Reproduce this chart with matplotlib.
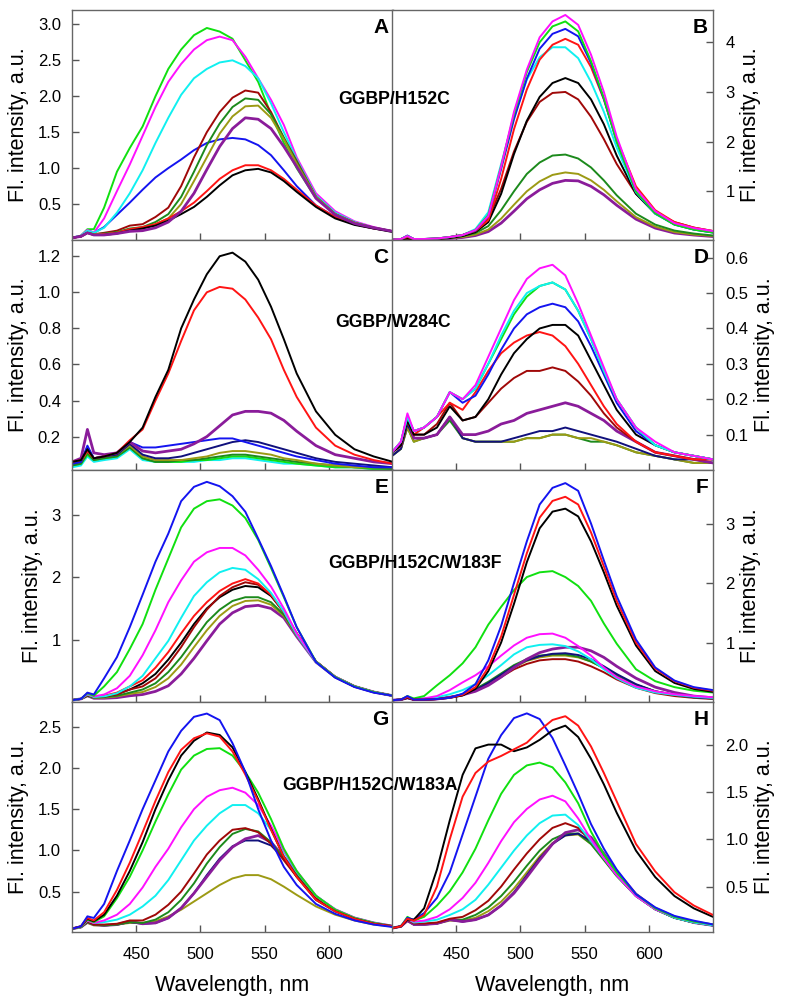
import matplotlib
matplotlib.use("Agg")
import matplotlib.pyplot as plt

plt.rcParams['font.family'] = ['Liberation Sans', 'DejaVu Sans']

# wavelength grid the curves were read at (nm)
wl = [400, 407, 412, 417, 425, 435, 445, 455, 465, 475, 485, 495, 505,
      515, 525, 535, 545, 555, 565, 575, 590, 605, 620, 635, 650]

# panel A - GGBP/H152C, left
panel_a = {
    'blue':      [0.03, 0.06, 0.14, 0.10, 0.18, 0.35, 0.52, 0.70, 0.87, 1.00, 1.12, 1.25, 1.35, 1.40, 1.42, 1.40, 1.32, 1.18, 0.97, 0.75, 0.48, 0.32, 0.22, 0.16, 0.12],
    'green':     [0.03, 0.06, 0.15, 0.15, 0.45, 0.95, 1.28, 1.58, 2.00, 2.38, 2.65, 2.85, 2.95, 2.90, 2.80, 2.50, 2.20, 1.75, 1.35, 1.00, 0.58, 0.36, 0.24, 0.17, 0.12],
    'magenta':   [0.03, 0.06, 0.14, 0.10, 0.30, 0.68, 1.05, 1.45, 1.85, 2.20, 2.45, 2.65, 2.78, 2.83, 2.78, 2.55, 2.25, 1.95, 1.60, 1.15, 0.65, 0.40, 0.26, 0.18, 0.12],
    'cyan':      [0.03, 0.06, 0.13, 0.10, 0.17, 0.38, 0.65, 0.97, 1.35, 1.70, 2.02, 2.25, 2.38, 2.47, 2.50, 2.42, 2.25, 1.90, 1.50, 1.12, 0.62, 0.38, 0.25, 0.17, 0.12],
    'darkred':   [0.03, 0.05, 0.10, 0.08, 0.10, 0.13, 0.20, 0.22, 0.32, 0.45, 0.75, 1.15, 1.50, 1.78, 1.98, 2.08, 2.05, 1.78, 1.42, 1.10, 0.60, 0.36, 0.24, 0.17, 0.12],
    'darkgreen': [0.03, 0.05, 0.10, 0.08, 0.09, 0.11, 0.16, 0.18, 0.25, 0.36, 0.60, 0.95, 1.32, 1.62, 1.85, 1.97, 1.95, 1.75, 1.42, 1.08, 0.60, 0.36, 0.24, 0.17, 0.12],
    'olive':     [0.03, 0.05, 0.10, 0.08, 0.08, 0.10, 0.14, 0.16, 0.22, 0.30, 0.50, 0.82, 1.15, 1.48, 1.72, 1.86, 1.87, 1.70, 1.40, 1.06, 0.60, 0.36, 0.24, 0.17, 0.12],
    'red':       [0.03, 0.05, 0.10, 0.07, 0.08, 0.10, 0.15, 0.18, 0.22, 0.30, 0.40, 0.52, 0.68, 0.85, 0.97, 1.04, 1.04, 0.97, 0.85, 0.70, 0.48, 0.32, 0.22, 0.16, 0.12],
    'black':     [0.03, 0.05, 0.10, 0.07, 0.07, 0.09, 0.13, 0.16, 0.20, 0.27, 0.36, 0.46, 0.60, 0.76, 0.90, 0.97, 0.99, 0.94, 0.82, 0.67, 0.46, 0.30, 0.21, 0.16, 0.11],
    'purple':    [0.03, 0.05, 0.10, 0.07, 0.07, 0.09, 0.12, 0.13, 0.17, 0.25, 0.40, 0.65, 0.98, 1.30, 1.55, 1.70, 1.68, 1.55, 1.30, 1.02, 0.58, 0.35, 0.23, 0.17, 0.12],
}

# panel B - GGBP/H152C, right
panel_b = {
    'purple':    [0.02, 0.03, 0.05, 0.03, 0.03, 0.04, 0.05, 0.07, 0.11, 0.19, 0.36, 0.60, 0.85, 1.03, 1.16, 1.22, 1.21, 1.10, 0.93, 0.72, 0.44, 0.26, 0.16, 0.12, 0.09],
    'olive':     [0.02, 0.03, 0.05, 0.03, 0.03, 0.04, 0.06, 0.08, 0.13, 0.23, 0.45, 0.73, 1.00, 1.20, 1.33, 1.38, 1.35, 1.22, 1.03, 0.80, 0.48, 0.29, 0.18, 0.13, 0.10],
    'darkgreen': [0.02, 0.03, 0.05, 0.03, 0.03, 0.04, 0.07, 0.10, 0.16, 0.30, 0.62, 1.00, 1.35, 1.58, 1.72, 1.74, 1.66, 1.48, 1.22, 0.92, 0.55, 0.33, 0.21, 0.15, 0.11],
    'darkred':   [0.02, 0.03, 0.05, 0.03, 0.03, 0.04, 0.07, 0.12, 0.22, 0.45, 1.05, 1.80, 2.40, 2.80, 2.98, 3.00, 2.85, 2.50, 2.05, 1.55, 0.95, 0.58, 0.38, 0.27, 0.20],
    'black':     [0.02, 0.03, 0.05, 0.03, 0.03, 0.04, 0.06, 0.10, 0.18, 0.38, 0.95, 1.75, 2.42, 2.90, 3.18, 3.28, 3.18, 2.85, 2.35, 1.72, 0.95, 0.55, 0.34, 0.24, 0.18],
    'cyan':      [0.03, 0.04, 0.10, 0.04, 0.04, 0.05, 0.08, 0.12, 0.24, 0.58, 1.55, 2.50, 3.25, 3.70, 3.90, 3.90, 3.68, 3.20, 2.60, 1.88, 0.98, 0.55, 0.33, 0.23, 0.17],
    'red':       [0.03, 0.04, 0.08, 0.04, 0.04, 0.05, 0.08, 0.12, 0.20, 0.42, 1.25, 2.25, 3.05, 3.65, 3.95, 4.07, 3.95, 3.50, 2.85, 2.05, 1.10, 0.62, 0.38, 0.27, 0.20],
    'blue':      [0.03, 0.04, 0.11, 0.04, 0.04, 0.05, 0.08, 0.12, 0.21, 0.50, 1.45, 2.45, 3.27, 3.87, 4.17, 4.27, 4.12, 3.58, 2.86, 2.00, 1.00, 0.56, 0.33, 0.23, 0.17],
    'green':     [0.03, 0.04, 0.10, 0.04, 0.04, 0.05, 0.08, 0.12, 0.22, 0.52, 1.50, 2.55, 3.40, 4.00, 4.32, 4.42, 4.22, 3.62, 2.88, 2.00, 1.00, 0.56, 0.33, 0.23, 0.17],
    'magenta':   [0.03, 0.04, 0.10, 0.04, 0.04, 0.05, 0.08, 0.12, 0.22, 0.50, 1.50, 2.60, 3.45, 4.10, 4.42, 4.55, 4.35, 3.75, 3.00, 2.10, 1.05, 0.60, 0.36, 0.26, 0.20],
}

# panel C - GGBP/W284C, left
panel_c = {
    'cyan':      [0.03, 0.04, 0.09, 0.06, 0.07, 0.08, 0.13, 0.07, 0.06, 0.06, 0.06, 0.06, 0.07, 0.07, 0.08, 0.08, 0.07, 0.06, 0.05, 0.05, 0.04, 0.03, 0.03, 0.02, 0.02],
    'green':     [0.04, 0.05, 0.10, 0.07, 0.08, 0.09, 0.14, 0.08, 0.06, 0.06, 0.06, 0.07, 0.07, 0.08, 0.09, 0.09, 0.08, 0.07, 0.06, 0.05, 0.04, 0.03, 0.03, 0.02, 0.02],
    'darkgreen': [0.04, 0.05, 0.11, 0.07, 0.08, 0.09, 0.14, 0.08, 0.06, 0.06, 0.07, 0.07, 0.08, 0.09, 0.10, 0.10, 0.09, 0.08, 0.07, 0.06, 0.05, 0.04, 0.03, 0.03, 0.02],
    'olive':     [0.05, 0.06, 0.12, 0.08, 0.09, 0.10, 0.15, 0.09, 0.07, 0.07, 0.07, 0.08, 0.09, 0.11, 0.12, 0.12, 0.11, 0.10, 0.08, 0.07, 0.05, 0.04, 0.03, 0.03, 0.03],
    'navy':      [0.05, 0.06, 0.14, 0.08, 0.09, 0.10, 0.16, 0.10, 0.08, 0.08, 0.09, 0.11, 0.13, 0.15, 0.17, 0.18, 0.17, 0.15, 0.13, 0.11, 0.08, 0.06, 0.05, 0.04, 0.03],
    'blue':      [0.05, 0.06, 0.15, 0.08, 0.09, 0.11, 0.17, 0.14, 0.14, 0.15, 0.16, 0.17, 0.18, 0.19, 0.19, 0.17, 0.15, 0.13, 0.11, 0.09, 0.07, 0.05, 0.04, 0.03, 0.03],
    'purple':    [0.06, 0.08, 0.24, 0.11, 0.10, 0.11, 0.17, 0.12, 0.11, 0.12, 0.13, 0.16, 0.20, 0.26, 0.32, 0.34, 0.34, 0.33, 0.29, 0.23, 0.15, 0.10, 0.08, 0.06, 0.05],
    'red':       [0.06, 0.07, 0.12, 0.08, 0.09, 0.11, 0.18, 0.24, 0.40, 0.55, 0.73, 0.90, 1.00, 1.03, 1.02, 0.96, 0.86, 0.74, 0.57, 0.42, 0.25, 0.15, 0.10, 0.07, 0.05],
    'black':     [0.06, 0.07, 0.13, 0.08, 0.09, 0.11, 0.17, 0.25, 0.42, 0.57, 0.80, 0.96, 1.10, 1.20, 1.22, 1.17, 1.07, 0.92, 0.74, 0.55, 0.34, 0.21, 0.13, 0.09, 0.06],
}

# panel D - GGBP/W284C, right
panel_d = {
    'darkgreen': [0.04, 0.06, 0.12, 0.08, 0.09, 0.10, 0.14, 0.09, 0.08, 0.08, 0.08, 0.08, 0.09, 0.09, 0.10, 0.10, 0.09, 0.08, 0.08, 0.07, 0.05, 0.04, 0.03, 0.02, 0.02],
    'olive':     [0.04, 0.06, 0.12, 0.08, 0.09, 0.10, 0.15, 0.09, 0.08, 0.08, 0.08, 0.08, 0.09, 0.09, 0.10, 0.10, 0.09, 0.09, 0.08, 0.07, 0.05, 0.04, 0.03, 0.02, 0.02],
    'navy':      [0.04, 0.06, 0.13, 0.09, 0.09, 0.10, 0.15, 0.09, 0.08, 0.08, 0.08, 0.09, 0.10, 0.11, 0.11, 0.12, 0.11, 0.10, 0.09, 0.08, 0.06, 0.04, 0.03, 0.03, 0.02],
    'purple':    [0.05, 0.07, 0.15, 0.09, 0.09, 0.10, 0.15, 0.10, 0.10, 0.11, 0.13, 0.14, 0.16, 0.17, 0.18, 0.19, 0.18, 0.16, 0.14, 0.11, 0.08, 0.05, 0.04, 0.03, 0.02],
    'darkred':   [0.05, 0.07, 0.14, 0.10, 0.10, 0.13, 0.19, 0.14, 0.15, 0.19, 0.23, 0.26, 0.28, 0.28, 0.29, 0.28, 0.25, 0.21, 0.16, 0.12, 0.08, 0.05, 0.04, 0.03, 0.03],
    'red':       [0.05, 0.07, 0.14, 0.10, 0.12, 0.15, 0.19, 0.17, 0.22, 0.28, 0.33, 0.36, 0.38, 0.39, 0.38, 0.35, 0.30, 0.24, 0.18, 0.13, 0.08, 0.05, 0.04, 0.03, 0.03],
    'black':     [0.05, 0.07, 0.14, 0.10, 0.10, 0.12, 0.18, 0.14, 0.15, 0.20, 0.27, 0.33, 0.37, 0.40, 0.41, 0.41, 0.38, 0.31, 0.24, 0.17, 0.10, 0.07, 0.05, 0.04, 0.03],
    'blue':      [0.05, 0.08, 0.15, 0.11, 0.12, 0.15, 0.22, 0.19, 0.21, 0.27, 0.34, 0.40, 0.44, 0.46, 0.47, 0.46, 0.42, 0.35, 0.27, 0.19, 0.11, 0.07, 0.05, 0.04, 0.03],
    'green':     [0.05, 0.08, 0.15, 0.11, 0.12, 0.15, 0.22, 0.20, 0.23, 0.30, 0.37, 0.44, 0.49, 0.52, 0.53, 0.51, 0.45, 0.37, 0.28, 0.20, 0.12, 0.07, 0.05, 0.04, 0.03],
    'cyan':      [0.05, 0.08, 0.15, 0.11, 0.12, 0.15, 0.22, 0.20, 0.23, 0.30, 0.38, 0.45, 0.50, 0.52, 0.53, 0.51, 0.45, 0.37, 0.28, 0.20, 0.12, 0.07, 0.05, 0.04, 0.03],
    'magenta':   [0.05, 0.08, 0.16, 0.11, 0.12, 0.15, 0.22, 0.20, 0.24, 0.32, 0.40, 0.48, 0.54, 0.57, 0.58, 0.55, 0.47, 0.38, 0.29, 0.20, 0.12, 0.08, 0.05, 0.04, 0.03],
}

# panel E - GGBP/H152C/W183F, left
panel_e = {
    'purple':    [0.03, 0.05, 0.10, 0.06, 0.06, 0.07, 0.10, 0.12, 0.17, 0.26, 0.45, 0.70, 0.98, 1.25, 1.43, 1.53, 1.55, 1.50, 1.35, 1.05, 0.64, 0.40, 0.25, 0.16, 0.10],
    'olive':     [0.03, 0.05, 0.10, 0.07, 0.07, 0.09, 0.13, 0.16, 0.24, 0.38, 0.60, 0.88, 1.15, 1.38, 1.54, 1.62, 1.63, 1.56, 1.38, 1.07, 0.65, 0.40, 0.25, 0.16, 0.10],
    'darkgreen': [0.03, 0.05, 0.10, 0.07, 0.08, 0.10, 0.15, 0.20, 0.30, 0.48, 0.72, 1.00, 1.28, 1.48, 1.62, 1.68, 1.68, 1.60, 1.40, 1.08, 0.65, 0.40, 0.25, 0.16, 0.10],
    'black':     [0.03, 0.05, 0.11, 0.08, 0.09, 0.13, 0.20, 0.30, 0.45, 0.68, 0.95, 1.25, 1.50, 1.68, 1.80, 1.86, 1.84, 1.70, 1.44, 1.10, 0.65, 0.40, 0.25, 0.16, 0.10],
    'darkred':   [0.03, 0.05, 0.11, 0.08, 0.09, 0.12, 0.20, 0.25, 0.38, 0.60, 0.88, 1.20, 1.48, 1.70, 1.84, 1.92, 1.88, 1.72, 1.45, 1.10, 0.65, 0.40, 0.25, 0.16, 0.10],
    'red':       [0.03, 0.05, 0.12, 0.08, 0.10, 0.15, 0.25, 0.35, 0.55, 0.80, 1.10, 1.38, 1.60, 1.78, 1.90, 1.97, 1.90, 1.72, 1.44, 1.10, 0.65, 0.40, 0.25, 0.16, 0.10],
    'cyan':      [0.03, 0.05, 0.12, 0.08, 0.09, 0.14, 0.25, 0.42, 0.70, 0.98, 1.35, 1.70, 1.92, 2.08, 2.15, 2.12, 1.97, 1.75, 1.45, 1.08, 0.64, 0.40, 0.25, 0.16, 0.10],
    'magenta':   [0.03, 0.05, 0.13, 0.09, 0.12, 0.22, 0.42, 0.75, 1.15, 1.60, 1.95, 2.25, 2.40, 2.47, 2.47, 2.35, 2.12, 1.85, 1.50, 1.10, 0.65, 0.40, 0.25, 0.16, 0.10],
    'green':     [0.03, 0.05, 0.14, 0.10, 0.25, 0.48, 0.85, 1.25, 1.80, 2.30, 2.80, 3.10, 3.22, 3.25, 3.15, 2.95, 2.60, 2.15, 1.68, 1.20, 0.65, 0.40, 0.25, 0.16, 0.10],
    'blue':      [0.03, 0.05, 0.15, 0.12, 0.38, 0.72, 1.20, 1.72, 2.25, 2.70, 3.22, 3.45, 3.53, 3.46, 3.30, 3.05, 2.62, 2.18, 1.70, 1.20, 0.64, 0.39, 0.24, 0.15, 0.10],
}

# panel F - GGBP/H152C/W183F, right
panel_f = {
    'darkred':   [0.03, 0.04, 0.07, 0.04, 0.04, 0.05, 0.08, 0.12, 0.20, 0.30, 0.42, 0.55, 0.64, 0.70, 0.72, 0.72, 0.68, 0.60, 0.50, 0.38, 0.24, 0.15, 0.10, 0.07, 0.05],
    'olive':     [0.03, 0.04, 0.07, 0.04, 0.04, 0.05, 0.08, 0.12, 0.20, 0.31, 0.45, 0.58, 0.69, 0.75, 0.78, 0.78, 0.75, 0.68, 0.57, 0.45, 0.29, 0.18, 0.12, 0.08, 0.06],
    'darkgreen': [0.03, 0.04, 0.07, 0.04, 0.04, 0.05, 0.08, 0.13, 0.22, 0.34, 0.48, 0.62, 0.72, 0.78, 0.80, 0.80, 0.76, 0.68, 0.57, 0.45, 0.29, 0.18, 0.12, 0.08, 0.06],
    'navy':      [0.03, 0.04, 0.07, 0.04, 0.04, 0.05, 0.08, 0.12, 0.20, 0.32, 0.46, 0.60, 0.70, 0.77, 0.81, 0.82, 0.79, 0.72, 0.60, 0.47, 0.30, 0.18, 0.12, 0.08, 0.06],
    'purple':    [0.03, 0.04, 0.07, 0.04, 0.04, 0.05, 0.08, 0.12, 0.18, 0.28, 0.42, 0.58, 0.72, 0.83, 0.89, 0.92, 0.92, 0.86, 0.75, 0.60, 0.40, 0.25, 0.16, 0.10, 0.07],
    'cyan':      [0.03, 0.04, 0.08, 0.05, 0.06, 0.08, 0.13, 0.20, 0.30, 0.45, 0.62, 0.80, 0.92, 0.96, 0.97, 0.94, 0.85, 0.72, 0.55, 0.40, 0.24, 0.16, 0.12, 0.09, 0.07],
    'magenta':   [0.03, 0.04, 0.08, 0.05, 0.06, 0.10, 0.20, 0.33, 0.45, 0.60, 0.78, 0.95, 1.08, 1.14, 1.15, 1.08, 0.94, 0.78, 0.58, 0.42, 0.26, 0.18, 0.13, 0.10, 0.08],
    'green':     [0.03, 0.04, 0.10, 0.06, 0.10, 0.28, 0.45, 0.65, 0.92, 1.30, 1.60, 1.88, 2.10, 2.18, 2.20, 2.10, 1.95, 1.70, 1.32, 0.98, 0.55, 0.35, 0.25, 0.19, 0.16],
    'black':     [0.03, 0.04, 0.07, 0.04, 0.04, 0.05, 0.07, 0.11, 0.22, 0.52, 1.00, 1.65, 2.35, 2.92, 3.20, 3.25, 3.12, 2.70, 2.18, 1.62, 0.95, 0.52, 0.32, 0.22, 0.17],
    'red':       [0.03, 0.04, 0.08, 0.04, 0.04, 0.05, 0.07, 0.12, 0.25, 0.58, 1.10, 1.80, 2.50, 3.10, 3.38, 3.45, 3.32, 2.85, 2.28, 1.70, 1.00, 0.56, 0.35, 0.24, 0.19],
    'blue':      [0.03, 0.04, 0.10, 0.04, 0.04, 0.05, 0.07, 0.14, 0.30, 0.70, 1.28, 2.00, 2.70, 3.32, 3.60, 3.68, 3.55, 3.00, 2.38, 1.78, 1.05, 0.58, 0.36, 0.25, 0.20],
}

# panel G - GGBP/H152C/W183A, left
panel_g = {
    'olive':     [0.05, 0.07, 0.12, 0.09, 0.09, 0.10, 0.12, 0.12, 0.14, 0.20, 0.28, 0.38, 0.48, 0.58, 0.66, 0.70, 0.70, 0.65, 0.56, 0.46, 0.32, 0.22, 0.15, 0.10, 0.08],
    'navy':      [0.05, 0.07, 0.13, 0.10, 0.09, 0.10, 0.13, 0.11, 0.12, 0.18, 0.30, 0.48, 0.70, 0.90, 1.05, 1.12, 1.12, 1.06, 0.90, 0.70, 0.43, 0.27, 0.17, 0.11, 0.08],
    'purple':    [0.05, 0.07, 0.13, 0.10, 0.09, 0.10, 0.14, 0.11, 0.12, 0.18, 0.30, 0.48, 0.68, 0.88, 1.04, 1.14, 1.18, 1.10, 0.92, 0.72, 0.44, 0.28, 0.18, 0.12, 0.08],
    'darkgreen': [0.05, 0.07, 0.13, 0.10, 0.09, 0.10, 0.13, 0.12, 0.16, 0.25, 0.40, 0.60, 0.84, 1.04, 1.20, 1.26, 1.23, 1.10, 0.90, 0.70, 0.43, 0.27, 0.17, 0.11, 0.08],
    'darkred':   [0.05, 0.07, 0.14, 0.10, 0.10, 0.11, 0.15, 0.15, 0.22, 0.34, 0.50, 0.72, 0.95, 1.12, 1.25, 1.27, 1.22, 1.08, 0.88, 0.68, 0.42, 0.27, 0.17, 0.11, 0.08],
    'cyan':      [0.05, 0.07, 0.15, 0.12, 0.13, 0.16, 0.22, 0.32, 0.45, 0.64, 0.88, 1.12, 1.30, 1.45, 1.55, 1.55, 1.45, 1.25, 0.98, 0.74, 0.45, 0.28, 0.18, 0.12, 0.08],
    'magenta':   [0.05, 0.07, 0.15, 0.12, 0.15, 0.22, 0.35, 0.55, 0.80, 1.02, 1.28, 1.50, 1.65, 1.73, 1.76, 1.70, 1.55, 1.30, 1.00, 0.75, 0.45, 0.28, 0.18, 0.12, 0.08],
    'green':     [0.05, 0.07, 0.16, 0.13, 0.20, 0.42, 0.68, 1.00, 1.35, 1.68, 1.98, 2.15, 2.23, 2.24, 2.15, 1.95, 1.70, 1.38, 1.02, 0.75, 0.45, 0.28, 0.18, 0.12, 0.08],
    'black':     [0.05, 0.08, 0.17, 0.14, 0.22, 0.45, 0.75, 1.10, 1.50, 1.85, 2.15, 2.33, 2.43, 2.40, 2.25, 1.95, 1.62, 1.26, 0.92, 0.68, 0.40, 0.26, 0.17, 0.11, 0.08],
    'red':       [0.05, 0.08, 0.18, 0.15, 0.25, 0.52, 0.85, 1.22, 1.60, 1.95, 2.22, 2.36, 2.42, 2.38, 2.20, 1.92, 1.60, 1.25, 0.92, 0.68, 0.40, 0.26, 0.17, 0.11, 0.08],
    'blue':      [0.05, 0.08, 0.20, 0.18, 0.35, 0.75, 1.12, 1.50, 1.85, 2.20, 2.45, 2.62, 2.66, 2.58, 2.30, 1.95, 1.50, 1.12, 0.80, 0.58, 0.35, 0.23, 0.15, 0.10, 0.07],
}

# panel H - GGBP/H152C/W183A, right
panel_h = {
    'olive':     [0.06, 0.08, 0.14, 0.10, 0.10, 0.11, 0.14, 0.14, 0.17, 0.24, 0.34, 0.48, 0.65, 0.82, 0.96, 1.04, 1.05, 0.95, 0.79, 0.62, 0.40, 0.26, 0.17, 0.12, 0.09],
    'darkgreen': [0.06, 0.08, 0.14, 0.10, 0.10, 0.11, 0.15, 0.15, 0.20, 0.28, 0.40, 0.55, 0.72, 0.88, 1.00, 1.06, 1.06, 0.95, 0.78, 0.61, 0.40, 0.26, 0.17, 0.12, 0.09],
    'navy':      [0.06, 0.08, 0.14, 0.10, 0.10, 0.11, 0.15, 0.13, 0.15, 0.20, 0.30, 0.44, 0.62, 0.80, 0.95, 1.04, 1.06, 0.98, 0.82, 0.64, 0.41, 0.26, 0.17, 0.12, 0.09],
    'purple':    [0.06, 0.08, 0.14, 0.10, 0.10, 0.11, 0.15, 0.13, 0.15, 0.20, 0.30, 0.43, 0.60, 0.78, 0.95, 1.07, 1.10, 1.02, 0.85, 0.66, 0.42, 0.27, 0.18, 0.12, 0.09],
    'darkred':   [0.06, 0.08, 0.15, 0.11, 0.11, 0.12, 0.16, 0.18, 0.25, 0.35, 0.50, 0.68, 0.85, 1.00, 1.12, 1.17, 1.12, 0.98, 0.80, 0.62, 0.40, 0.26, 0.17, 0.12, 0.09],
    'cyan':      [0.06, 0.08, 0.16, 0.12, 0.13, 0.15, 0.20, 0.26, 0.36, 0.52, 0.70, 0.88, 1.04, 1.17, 1.25, 1.26, 1.15, 0.98, 0.80, 0.62, 0.40, 0.26, 0.17, 0.12, 0.09],
    'magenta':   [0.06, 0.08, 0.16, 0.13, 0.14, 0.18, 0.26, 0.38, 0.54, 0.75, 0.98, 1.18, 1.32, 1.42, 1.46, 1.40, 1.22, 1.00, 0.80, 0.62, 0.40, 0.26, 0.18, 0.13, 0.10],
    'green':     [0.06, 0.08, 0.18, 0.14, 0.18, 0.30, 0.45, 0.65, 0.90, 1.20, 1.48, 1.68, 1.78, 1.81, 1.76, 1.60, 1.38, 1.08, 0.84, 0.65, 0.42, 0.27, 0.18, 0.13, 0.10],
    'blue':      [0.06, 0.08, 0.17, 0.15, 0.22, 0.38, 0.65, 1.05, 1.45, 1.85, 2.10, 2.28, 2.33, 2.27, 2.07, 1.78, 1.48, 1.16, 0.90, 0.68, 0.42, 0.28, 0.19, 0.14, 0.10],
    'black':     [0.06, 0.08, 0.15, 0.15, 0.27, 0.68, 1.20, 1.68, 1.96, 2.00, 2.00, 1.93, 1.97, 2.05, 2.15, 2.20, 2.08, 1.85, 1.58, 1.28, 0.88, 0.60, 0.40, 0.27, 0.18],
    'red':       [0.06, 0.08, 0.16, 0.14, 0.20, 0.50, 1.00, 1.45, 1.70, 1.82, 1.88, 1.95, 2.02, 2.15, 2.26, 2.30, 2.20, 1.98, 1.70, 1.40, 0.95, 0.66, 0.44, 0.30, 0.20],
}

panels = [panel_a, panel_b, panel_c, panel_d, panel_e, panel_f, panel_g, panel_h]
letters = ['A', 'B', 'C', 'D', 'E', 'F', 'G', 'H']
ylims = [(0.0, 3.2), (0.02, 4.65), (0.015, 1.29), (0.0, 0.65),
         (0.0, 3.72), (0.0, 3.9), (0.01, 2.8), (0.02, 2.45)]
yticks = [[0.5, 1.0, 1.5, 2.0, 2.5, 3.0], [1, 2, 3, 4],
          [0.2, 0.4, 0.6, 0.8, 1.0, 1.2], [0.1, 0.2, 0.3, 0.4, 0.5, 0.6],
          [1, 2, 3], [1, 2, 3],
          [0.5, 1.0, 1.5, 2.0, 2.5], [0.5, 1.0, 1.5, 2.0]]
ytick_fmt = ['%.1f', '%d', '%.1f', '%.1f', '%d', '%d', '%.1f', '%.1f']
xticks = [450, 500, 550, 600]
mutants = ['GGBP/H152C', 'GGBP/W284C', 'GGBP/H152C/W183F', 'GGBP/H152C/W183A']
mutant_pos = [(394, 100), (393, 322), (415, 563), (370, 786)]

colors = {
    'green': '#10e010', 'magenta': '#ff10ff', 'cyan': '#10f0f0',
    'darkred': '#a00808', 'darkgreen': '#1c8a1c', 'olive': '#9c9a14',
    'purple': '#8a1c9a', 'blue': '#1414f0', 'red': '#ff1414',
    'black': '#000000', 'navy': '#10107c',
}

W, H = 787, 1005
fig = plt.figure(figsize=(W / 100, H / 100), dpi=100)

col_x = [72, 392]
col_w = 321
row_top = [10, 240, 470, 702]
row_h = [230, 230, 232, 230]

for k, data in enumerate(panels):
    r, c = divmod(k, 2)
    ax = fig.add_axes([col_x[c] / W, 1 - (row_top[r] + row_h[r]) / H,
                       col_w / W, row_h[r] / H])
    for name, vals in data.items():
        lw = 2.0 if name == 'purple' else 1.4
        ax.plot(wl, vals, color=colors[name], lw=lw)
    ax.set_xlim(400, 650)
    ax.set_ylim(*ylims[k])
    ax.set_xticks(xticks)
    ax.set_yticks(yticks[k])
    ax.set_yticklabels([ytick_fmt[k] % v for v in yticks[k]])
    ax.tick_params(direction='in', length=5, width=1, color='#555555',
                   labelsize=12, pad=8)
    if r < 3:
        ax.tick_params(axis='x', labelbottom=False)
    else:
        ax.tick_params(axis='x', pad=11)
        ax.set_xlabel('Wavelength, nm', fontsize=15.5, labelpad=9)
    if c == 1:
        ax.yaxis.tick_right()
        ax.yaxis.set_label_position('right')
        ax.tick_params(axis='y', pad=9)
        ax.set_ylabel('Fl. intensity, a.u.', fontsize=15.5, labelpad=4)
    else:
        ax.set_ylabel('Fl. intensity, a.u.', fontsize=15.5, labelpad=6)
    for sp in ax.spines.values():
        sp.set_color('#666666')
        sp.set_linewidth(1.0)
    ax.text(0.985, 0.965, letters[k], transform=ax.transAxes, ha='right',
            va='top', fontsize=15, fontweight='bold')

for label, (px, py) in zip(mutants, mutant_pos):
    fig.text(px / W, 1 - py / H, label, ha='center', va='center',
             fontsize=12.7, fontweight='bold')

fig.savefig('out.png', dpi=100)
